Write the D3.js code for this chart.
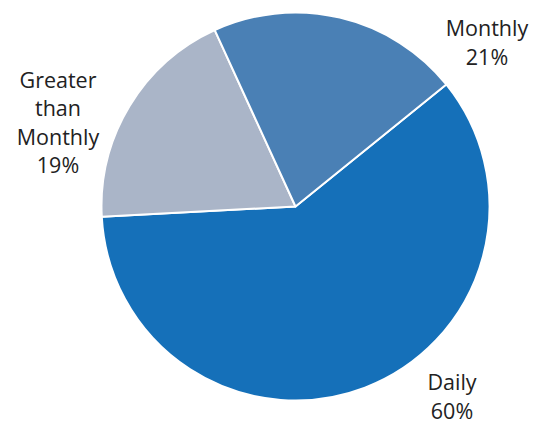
<!DOCTYPE html>
<html><head><meta charset="utf-8">
<script src="https://cdn.jsdelivr.net/npm/d3@7"></script>
<style>body{margin:0;background:#fff}svg{display:block}</style>
</head><body>
<svg id="c" width="542" height="422"></svg>
<script>
const categories = ["Daily", "Greater than Monthly", "Monthly"];
const values = [60, 19, 21];
const labelLines = [["Daily", "60%"], ["Greater", "than", "Monthly", "19%"], ["Monthly", "21%"]];
const colors = ["#1570b9", "#aab5c8", "#4a80b5"];
const labelPos = [[452, 390], [58, 87.5], [487, 36]];

const svg = d3.select("#c");
const cx = 295.5, cy = 206.5, r = 194;
const startDeg = 51;
const pie = d3.pie().sort(null).value(d => d)
  .startAngle(startDeg * Math.PI / 180).endAngle((startDeg + 360) * Math.PI / 180);
const arcs = pie(values);
const arc = d3.arc().innerRadius(0).outerRadius(r);
const g = svg.append("g").attr("transform", `translate(${cx},${cy})`);
g.selectAll("path").data(arcs).join("path")
  .attr("d", arc)
  .attr("fill", (d, i) => colors[i])
  .attr("stroke", "#fff").attr("stroke-width", 2).attr("stroke-linejoin", "round");

const lh = 28.5;
categories.forEach((c, i) => {
  const t = svg.append("text")
    .attr("x", labelPos[i][0]).attr("y", labelPos[i][1])
    .attr("text-anchor", "middle")
    .attr("font-family", "'Open Sans', sans-serif")
    .attr("font-size", 21.5).attr("fill", "#222");
  labelLines[i].forEach((l, j) => {
    t.append("tspan").attr("x", labelPos[i][0]).attr("y", labelPos[i][1] + j * lh).text(l);
  });
});
</script>
</body></html>
